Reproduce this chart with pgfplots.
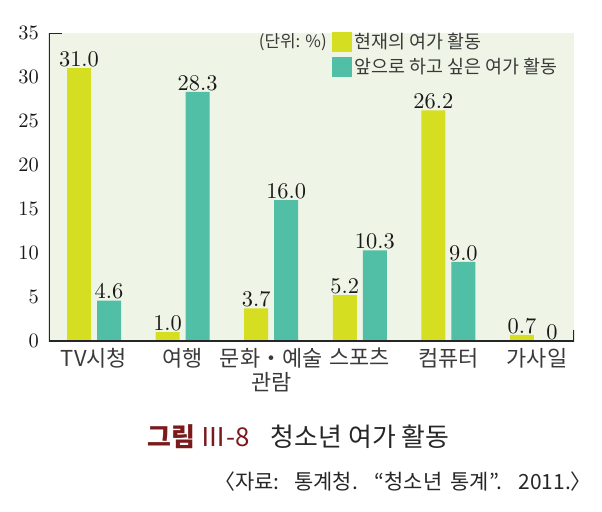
\documentclass[border=0pt]{standalone}
\usepackage{fontspec}
\usepackage{pgfplots}
\pgfplotsset{compat=1.18}
\newfontfamily\kr{Noto Sans CJK KR}
\newfontfamily\numfont{lmroman10-regular.otf}
\definecolor{barY}{HTML}{D6DE22}
\definecolor{barT}{HTML}{50BFA6}
\definecolor{bgG}{HTML}{EFF5E6}
\definecolor{capRed}{HTML}{7A1A1C}
\definecolor{txt}{HTML}{3A3A3A}

\begin{document}
\begin{tikzpicture}
% page frame: axis box sits with its lower left corner at (0,0)
\path[use as bounding box] (-49bp,-171bp) rectangle (553bp,341bp);
\begin{axis}[
    name=ax,
    scale only axis,
    width=525bp, height=308bp,
    xmin=-0.508, xmax=5.418,
    ymin=0, ymax=35,
    ybar=6bp, bar width=24bp,
    axis background/.style={fill=bgG},
    axis line style={draw=none},
    major tick length=0pt,
    xtick={0,...,5},
    xticklabels={TV시청, 여행, {문화・예술\\관람}, 스포츠, 컴퓨터, 가사일},
    xticklabel style={font=\kr\fontsize{22}{24}\selectfont, text=txt, align=center, inner sep=0pt, anchor=north, yshift=-7bp},
    ytick={0,5,...,35},
    yticklabel={\pgfmathprintnumber[assume math mode=true]{\tick}},
    yticklabel style={font=\numfont\fontsize{20.5}{20.5}\selectfont, inner sep=0pt, xshift=-10bp, text=black!90},
    nodes near coords,
    point meta=explicit symbolic,
    every node near coord/.append style={font=\numfont\fontsize{22.5}{22.5}\selectfont, inner sep=0pt, yshift=1bp, text=black!90},
    legend image code/.code={\fill[#1] (0bp,-10bp) rectangle (20bp,10bp);},
    legend style={at={(0.539,1.006)}, anchor=north west, draw=none, fill=none,
        font=\kr\fontsize{18.5}{18.5}\selectfont, text=txt, row sep=4bp,
        cells={anchor=west}, inner sep=0pt},
]
\addplot[fill=barY, draw=none] coordinates {
    (0,31.0) [31.0]
    (1,1.0) [1.0]
    (2,3.7) [3.7]
    (3,5.2) [5.2]
    (4,26.2) [26.2]
    (5,0.7) [0.7]
};
\addlegendentry{현재의 여가 활동}
\addplot[fill=barT, draw=none] coordinates {
    (0,4.6) [4.6]
    (1,28.3) [28.3]
    (2,16.0) [16.0]
    (3,10.3) [10.3]
    (4,9.0) [9.0]
    (5,0) [0]
};
\addlegendentry{앞으로 하고 싶은 여가 활동}
\draw[line width=2bp, color=black!85]
    (rel axis cs:0.024,1) -- (rel axis cs:0,1) -- (rel axis cs:0,0)
    -- (rel axis cs:1,0) -- (rel axis cs:1,0.035);
\end{axis}
\node[anchor=east, inner sep=0pt, text=txt] at (278bp,299bp)
    {\kr\fontsize{17}{17}\selectfont (단위: \%)};
\node[anchor=west, inner sep=0pt] at (98bp,-96bp)
    {\kr\fontsize{26}{26}\selectfont\textcolor{capRed}{{\bfseries 그림} Ⅲ-8}\hspace{21bp}\textcolor{black!85}{청소년 여가 활동}};
\node[anchor=east, inner sep=0pt, text=black!85] at (543bp,-141bp)
    {\kr\fontsize{21}{21}\selectfont 〈자료:\hspace{0.7em}통계청.\hspace{0.8em}“청소년\hspace{0.4em}통계”.\hspace{0.8em}2011.〉};
\end{tikzpicture}
\end{document}
